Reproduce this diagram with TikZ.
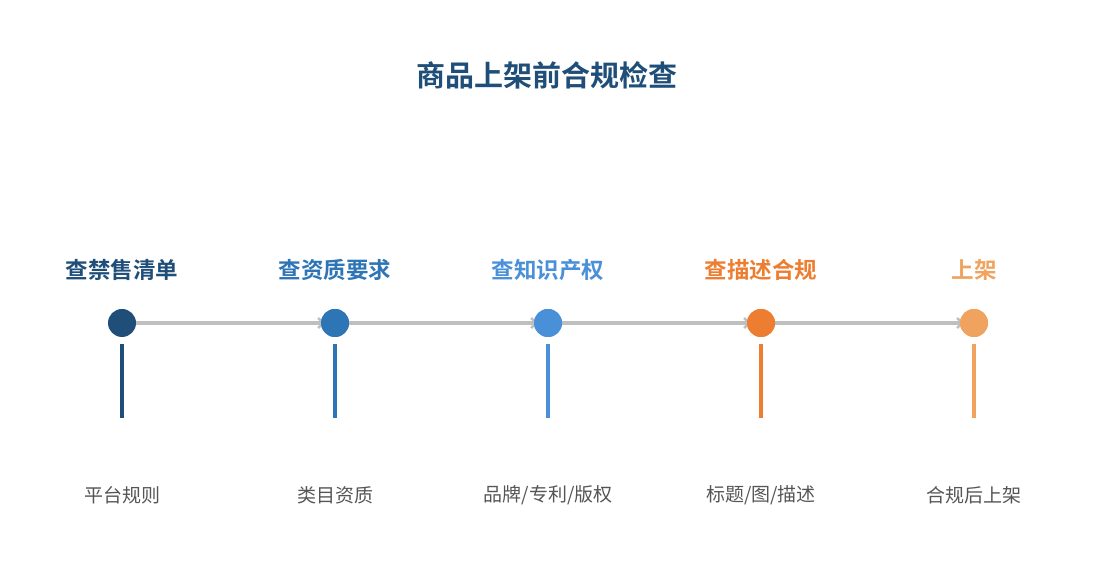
\documentclass[tikz,border=0pt]{standalone}
\usepackage{fontspec}
\setmainfont{Noto Sans CJK SC}[BoldFont={* Bold}]
\usepackage{xcolor}
\usepackage{tikz}
\usetikzlibrary{arrows.meta,positioning}

\definecolor{navyA}{HTML}{1F4E79}
\definecolor{blueB}{HTML}{2E75B6}
\definecolor{blueC}{HTML}{4A90D9}
\definecolor{orangeD}{HTML}{ED7D31}
\definecolor{orangeE}{HTML}{F0A35E}
\definecolor{lineGray}{HTML}{BFBFBF}
\definecolor{textGray}{HTML}{555555}

\begin{document}
\begin{tikzpicture}[x=1pt, y=1pt, node distance=213pt,
    dot/.style={circle, fill=#1, inner sep=0pt, minimum size=28pt},
    title/.style={font=\fontsize{22.5}{26}\selectfont\bfseries, text=#1, node distance=53pt},
    note/.style={font=\fontsize{19}{23}\selectfont, text=textGray},
    stem/.style={line width=4pt, draw=#1},
    arrow/.style={-{Straight Barb[length=5pt,width=10pt,line width=2.5pt]}, line width=3.5pt, draw=lineGray, shorten >=-4pt}]

    \useasboundingbox (0,0) rectangle (1095,585);

    \node[font=\fontsize{29}{33}\selectfont\bfseries, text=navyA] (head) at (547,510) {商品上架前合规检查};

    \node[dot=navyA] (s1) at (122,262) {};
    \node[dot=blueB, right of=s1] (s2) {};
    \node[dot=blueC, right of=s2] (s3) {};
    \node[dot=orangeD, right of=s3] (s4) {};
    \node[dot=orangeE, right of=s4] (s5) {};

    \node[title=navyA, above of=s1] (t1) {查禁售清单};
    \node[title=blueB, above of=s2] (t2) {查资质要求};
    \node[title=blueC, above of=s3] (t3) {查知识产权};
    \node[title=orangeD, above of=s4] (t4) {查描述合规};
    \node[title=orangeE, above of=s5] (t5) {上架};

    \node[note, below of=s1, node distance=172pt] (n1) {平台规则};
    \node[note, below of=s2, node distance=172pt] (n2) {类目资质};
    \node[note, below of=s3, node distance=172pt] (n3) {品牌/专利/版权};
    \node[note, below of=s4, node distance=172pt] (n4) {标题/图/描述};
    \node[note, below of=s5, node distance=172pt] (n5) {合规后上架};

    \draw[arrow] (s1) -- (s2);
    \draw[arrow] (s2) -- (s3);
    \draw[arrow] (s3) -- (s4);
    \draw[arrow] (s4) -- (s5);

    % circles again on top of the arrow tips
    \foreach \s/\c in {s2/blueB, s3/blueC, s4/orangeD, s5/orangeE}
        \fill[\c] (\s) circle (14pt);

    \draw[stem=navyA] ([yshift=-7pt]s1.south) -- ++(0,-74);
    \draw[stem=blueB] ([yshift=-7pt]s2.south) -- ++(0,-74);
    \draw[stem=blueC] ([yshift=-7pt]s3.south) -- ++(0,-74);
    \draw[stem=orangeD] ([yshift=-7pt]s4.south) -- ++(0,-74);
    \draw[stem=orangeE] ([yshift=-7pt]s5.south) -- ++(0,-74);

\end{tikzpicture}
\end{document}
